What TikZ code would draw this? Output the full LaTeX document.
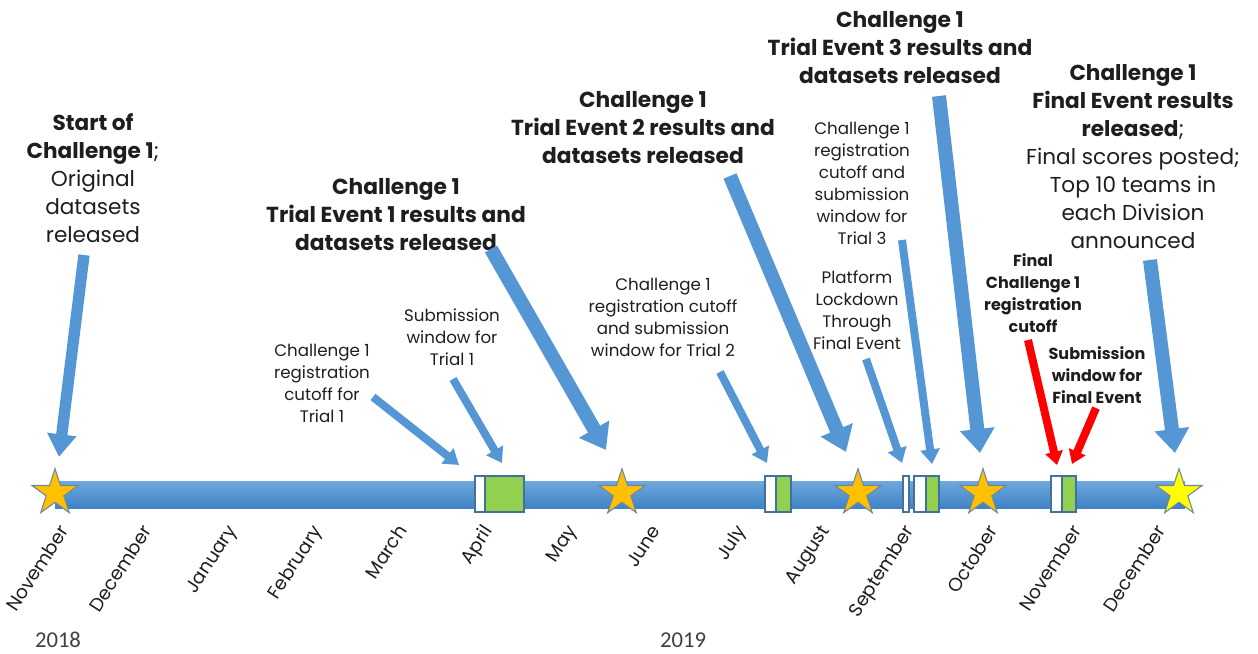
\documentclass[tikz,border=0pt]{standalone}
\usepackage{fontspec}
\setmainfont{Poppins}
\newfontfamily\yearfont{Carlito}
\usetikzlibrary{shapes.geometric,arrows.meta}
\definecolor{bartop}{HTML}{6FA8DC}
\definecolor{barbot}{HTML}{3F83C6}
\definecolor{starfill}{HTML}{FFC000}
\definecolor{staryel}{HTML}{FFFF00}
\definecolor{starline}{HTML}{6F87A3}
\definecolor{boxline}{HTML}{41719C}
\definecolor{boxgreen}{HTML}{92D050}
\definecolor{arrowblue}{HTML}{5596D5}
\definecolor{txt}{HTML}{1E1E1E}
\definecolor{yeartxt}{HTML}{404040}
\begin{document}
\begin{tikzpicture}[x=0.75pt,y=-0.75pt,
  bigtxt/.style={font=\fontsize{16.2}{21}\selectfont, align=center, inner sep=0, text=txt},
  bigbold/.style={font=\fontsize{16.3}{21}\selectfont\bfseries, align=center, inner sep=0, text=txt},
  smalltxt/.style={font=\fontsize{12.5}{16.5}\selectfont, align=center, inner sep=0, text=txt},
  smallbold/.style={font=\fontsize{12}{16.5}\selectfont\bfseries, align=center, inner sep=0, text=txt},
  month/.style={font=\fontsize{14}{16}\selectfont, rotate=57, anchor=north east, inner sep=0, text=txt},
  year/.style={font=\yearfont\fontsize{17}{20}\selectfont, text=yeartxt, inner sep=0},
  evstar/.style={star, star points=5, star point ratio=2.618, minimum size=36.5pt, inner sep=0, fill=starfill, draw=starline, line width=0.8pt},
  boxw/.style={rectangle, draw=boxline, fill=white, line width=0.8pt, minimum height=27pt, inner sep=0, minimum width=#1},
  boxg/.style={rectangle, draw=boxline, fill=boxgreen, line width=0.8pt, minimum height=27pt, inner sep=0, minimum width=#1},
  bigarrow/.style={draw=arrowblue, line width=10.5pt, -{Triangle[width=25pt,length=18pt]}},
  smallarrow/.style={draw=arrowblue, line width=6pt, -{Triangle[width=14pt,length=11pt]}},
  redarrow/.style={draw=red, line width=6pt, -{Triangle[width=13pt,length=10pt]}}
]
\useasboundingbox (0,0) rectangle (1258,654);
% bar
\shade[top color=bartop, bottom color=barbot] (55,481) rectangle (1185,508);
% boxes
\node[boxw=7.5pt] (aprW) at (480,494) {};
\node[boxg=29.25pt] (aprG) at (504.5,494) {};
\node[boxw=8.25pt] (julW) at (770.5,494) {};
\node[boxg=11.25pt] (julG) at (783.5,494) {};
\node[boxw=4.5pt] (sepL) at (906,494) {};
\node[boxw=9pt] (sepW) at (920,494) {};
\node[boxg=9.75pt] (sepG) at (932.5,494) {};
\node[boxw=8.25pt] (novW) at (1056.5,494) {};
\node[boxg=10.5pt] (novG) at (1069,494) {};
% stars
\node[evstar] (s1) at (55,493) {};
\node[evstar] (s2) at (622,493) {};
\node[evstar] (s3) at (858,493) {};
\node[evstar] (s4) at (983,493) {};
\node[evstar, fill=staryel] (s5) at (1179,493) {};
% months
\foreach \x/\m in {65/November,148/December,233/January,318/February,403/March,488/April,573/May,657/June,742/July,826/August,910/September,994/October,1078/November,1162/December}
  \node[month] at (\x-7,523) {\m};
\node[year] (y18) at (58,640) {2018};
\node[year] (y19) at (683,640) {2019};
% texts
\node[bigtxt] (tStart) at (93,178) {\textbf{Start of}\\\textbf{Challenge 1};\\Original\\datasets\\released};
\node[bigbold] (tTE1) at (396,215) {Challenge 1\\Trial Event 1 results and\\datasets released};
\node[bigbold] (tTE2) at (643,128) {Challenge 1\\Trial Event 2 results and\\datasets released};
\node[bigbold] (tTE3) at (900,48) {Challenge 1\\Trial Event 3 results and\\datasets released};
\node[bigtxt] (tFin) at (1133,157) {\textbf{Challenge 1}\\\textbf{Final Event results}\\\textbf{released};\\Final scores posted;\\Top 10 teams in\\each Division\\announced};
\node[smalltxt] (tReg1) at (322,383) {Challenge 1\\registration\\cutoff for\\Trial 1};
\node[smalltxt] (tSub1) at (452,337) {Submission\\window for\\Trial 1};
\node[smalltxt] (tReg2) at (663,317) {Challenge 1\\registration cutoff\\and submission\\window for Trial 2};
\node[smalltxt] (tReg3) at (862,183) {Challenge 1\\registration\\cutoff and\\submission\\window for\\Trial 3};
\node[smalltxt] (tLock) at (857,310) {Platform\\Lockdown\\Through\\Final Event};
\node[smallbold] (tFReg) at (1033,293) {Final\\Challenge 1\\registration\\cutoff};
\node[smallbold] (tFSub) at (1097,375) {Submission\\window for\\Final Event};
% arrow coordinates
\coordinate (aStartA) at (84,255);   \coordinate (aStartB) at (59,457);
\coordinate (aTE1A) at (491,249);    \coordinate (aTE1B) at (606,450);
\coordinate (aReg1A) at (373,397);   \coordinate (aReg1B) at (459,465);
\coordinate (aSub1A) at (453,379);   \coordinate (aSub1B) at (502,463);
\coordinate (aTE2A) at (730,176);    \coordinate (aTE2B) at (846,452);
\coordinate (aReg2A) at (720,372);   \coordinate (aReg2B) at (767,463);
\coordinate (aLockA) at (866,359);   \coordinate (aLockB) at (902,463);
\coordinate (aReg3A) at (902,240);   \coordinate (aReg3B) at (932,464);
\coordinate (aTE3A) at (939,96);     \coordinate (aTE3B) at (980,453);
\coordinate (aFRegA) at (1028,340);  \coordinate (aFRegB) at (1057,465);
\coordinate (aFSubA) at (1096,408);  \coordinate (aFSubB) at (1072,464);
\coordinate (aFinA) at (1150,260);   \coordinate (aFinB) at (1175,453);
% arrows
\draw[bigarrow, line width=8.5pt, -{Triangle[width=21pt,length=17pt]}] (aStartA) -- (aStartB);
\draw[bigarrow] (aTE1A) -- (aTE1B);
\draw[smallarrow] (aReg1A) -- (aReg1B);
\draw[smallarrow] (aSub1A) -- (aSub1B);
\draw[bigarrow] (aTE2A) -- (aTE2B);
\draw[smallarrow] (aReg2A) -- (aReg2B);
\draw[smallarrow] (aLockA) -- (aLockB);
\draw[smallarrow] (aReg3A) -- (aReg3B);
\draw[bigarrow] (aTE3A) -- (aTE3B);
\draw[redarrow] (aFRegA) -- (aFRegB);
\draw[redarrow] (aFSubA) -- (aFSubB);
\draw[bigarrow] (aFinA) -- (aFinB);
\end{tikzpicture}
\end{document}
